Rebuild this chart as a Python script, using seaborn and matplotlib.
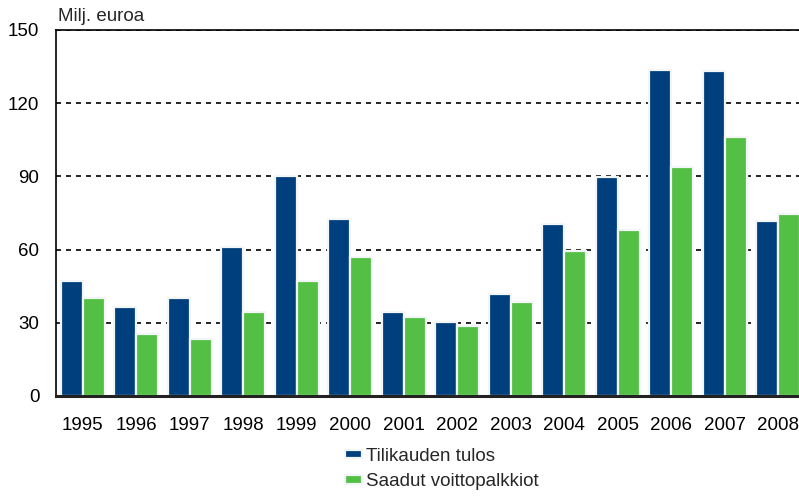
import seaborn as sns
import pandas as pd
import matplotlib.pyplot as plt

years = ["1995", "1996", "1997", "1998", "1999", "2000", "2001",
         "2002", "2003", "2004", "2005", "2006", "2007", "2008"]
tulos = [47, 36.5, 40, 61, 90, 72.5, 34.5, 30.5, 41.7, 70.6, 89.6, 133.6, 133.1, 71.8]
palkkiot = [40, 25.5, 23.5, 34.5, 47, 56.8, 32.5, 28.5, 38.4, 59.4, 67.9, 93.7, 106, 74.5]
series = ["Tilikauden tulos", "Saadut voittopalkkiot"]
colors = ["#003F7D", "#53BF44"]

df = pd.DataFrame({
    "vuosi": years * 2,
    "arvo": tulos + palkkiot,
    "sarja": [series[0]] * len(years) + [series[1]] * len(years),
})

sns.set_style("white")
plt.rcParams["font.family"] = ["Liberation Sans", "DejaVu Sans"]

fig = plt.figure(figsize=(7.99, 5), dpi=100)
ax = fig.add_axes([56 / 799, 104 / 500, 743 / 799, 366 / 500])

sns.barplot(data=df, x="vuosi", y="arvo", hue="sarja", palette=colors,
            saturation=1, width=0.82, edgecolor="#f2f6f8", linewidth=1.6,
            ax=ax, zorder=3)

ax.set_xlim(-0.5, 13.39)
ax.set_ylim(0, 150)
ax.set_yticks([0, 30, 60, 90, 120, 150])
ax.yaxis.grid(True, linestyle=(0, (3, 3)), color="black", linewidth=1.2, zorder=0)
ax.set_axisbelow(True)
ax.set_xlabel("")
ax.set_ylabel("")
ax.tick_params(axis="both", length=0, labelsize=13.5, colors="black")
ax.tick_params(axis="x", pad=15)
ax.tick_params(axis="y", pad=12)
ax.text(2 / 743, 1.015, "Milj. euroa", transform=ax.transAxes, fontsize=13.5,
        va="bottom", ha="left")

for s in ["left", "top"]:
    ax.spines[s].set_color("black")
    ax.spines[s].set_linewidth(1.2)
ax.spines["bottom"].set_color("#222222")
ax.spines["bottom"].set_linewidth(2.2)
ax.spines["bottom"].set_zorder(5)
ax.spines["right"].set_visible(False)

ax.legend(loc="center left", bbox_to_anchor=(345 / 799, 1 - 469 / 500),
          bbox_transform=fig.transFigure, frameon=False, fontsize=13.5,
          handlelength=0.9, handleheight=0.32, handletextpad=0.2,
          labelspacing=0.45, borderpad=0, borderaxespad=0)

fig.savefig("out.png", dpi=100)
